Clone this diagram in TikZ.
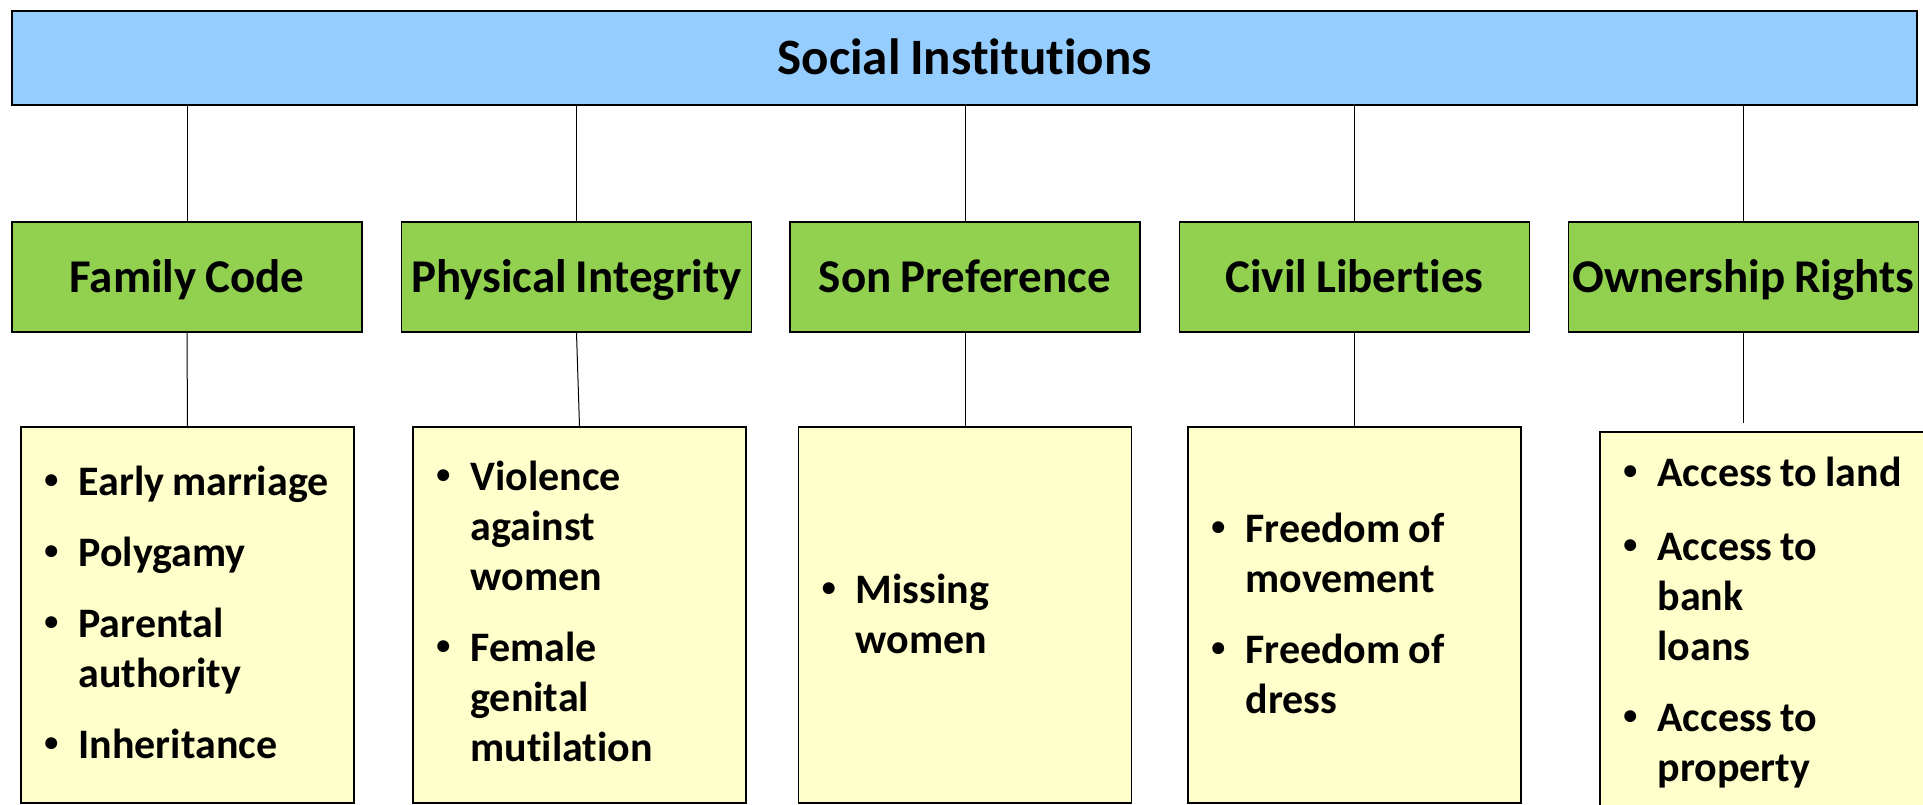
\documentclass[tikz,border=0pt]{standalone}
\usepackage{fontspec}
\setmainfont{Carlito}[Ligatures=NoCommon]
\usetikzlibrary{positioning}

\definecolor{headblue}{HTML}{95CDFE}
\definecolor{catgreen}{HTML}{92D050}
\definecolor{itemyellow}{HTML}{FFFFCC}

\newcommand{\boldat}[1]{\fontsize{#1}{50}\selectfont\bfseries\fontdimen2\font=0.19em}
\newcommand{\bul}{\raisebox{7pt}{\fontsize{28}{28}\selectfont\textbullet}}
\newcommand{\itemlist}[1]{\begin{tabular}[t]{@{}p{34pt}@{}l@{}}#1\end{tabular}}

\tikzset{
  head/.style={draw, line width=1.5pt, fill=headblue, minimum width=1905pt, minimum height=94pt,
    inner sep=0pt, text height=33pt, text depth=0pt, font=\boldat{51}},
  cat/.style={draw, line width=1.5pt, fill=catgreen, minimum width=350pt, minimum height=110pt,
    inner sep=0pt, text width=350pt, align=flush center, text height=31pt, text depth=0pt,
    font=\boldat{47}},
  items/.style={draw, line width=1.5pt, fill=itemyellow, minimum width=333pt, minimum height=376pt},
  list/.style={inner sep=0pt, anchor=base west, font=\boldat{42}},
  link/.style={line width=1pt}
}

\begin{document}
\begin{tikzpicture}[x=1pt,y=-1pt]
\useasboundingbox (0,0) rectangle (1923,805);
\node[head] (si) at (964.5,58) {Social Institutions};

\node[cat] (fc) at (187,277) {Family Code};
\node[cat] (pi) at (576.5,277) {Physical Integrity};
\node[cat] (sp) at (965,277) {Son Preference};
\node[cat] (cl) at (1354.5,277) {Civil Liberties};
\node[cat] (or) at (1743.5,277) {Ownership~Rights};

\node[items] (fcl) at (187.5,615) {};
\node[items] (pil) at (579.5,615) {};
\node[items] (spl) at (965,615) {};
\node[items] (cll) at (1354.5,615) {};
\node[items] (orl) at (1766.5,620) {};

\node[list] (fct) at ([xshift=24pt,yshift=-69pt]fcl.north west) {\itemlist{
  \bul & Early marriage\\[21pt]
  \bul & Polygamy\\[21pt]
  \bul & Parental\\
       & authority\\[21pt]
  \bul & Inheritance}};
\node[list] (pit) at ([xshift=24pt,yshift=-64pt]pil.north west) {\itemlist{
  \bul & Violence\\
       & against\\
       & women\\[21pt]
  \bul & Female\\
       & genital\\
       & mutilation}};
\node[list] (spt) at ([xshift=24pt,yshift=-177pt]spl.north west) {\itemlist{
  \bul & Missing\\
       & women}};
\node[list] (clt) at ([xshift=24pt,yshift=-116pt]cll.north west) {\itemlist{
  \bul & Freedom of\\
       & movement\\[21pt]
  \bul & Freedom of\\
       & dress}};
\node[list] (ort) at ([xshift=24pt,yshift=-55pt]orl.north west) {\itemlist{
  \bul & Access to land\\[24pt]
  \bul & Access to\\
       & bank\\
       & loans\\[21pt]
  \bul & Access to\\
       & property}};

\foreach \c in {fc,pi,sp,cl,or}
  \draw[link] (si.south -| \c.north) -- (\c.north);
\foreach \c/\l in {fc/fcl,pi/pil,sp/spl,cl/cll}
  \draw[link] (\c.south) -- (\l.north);
\draw[link] (or.south) -- ([yshift=8pt]or.south |- orl.north);
\end{tikzpicture}
\end{document}
